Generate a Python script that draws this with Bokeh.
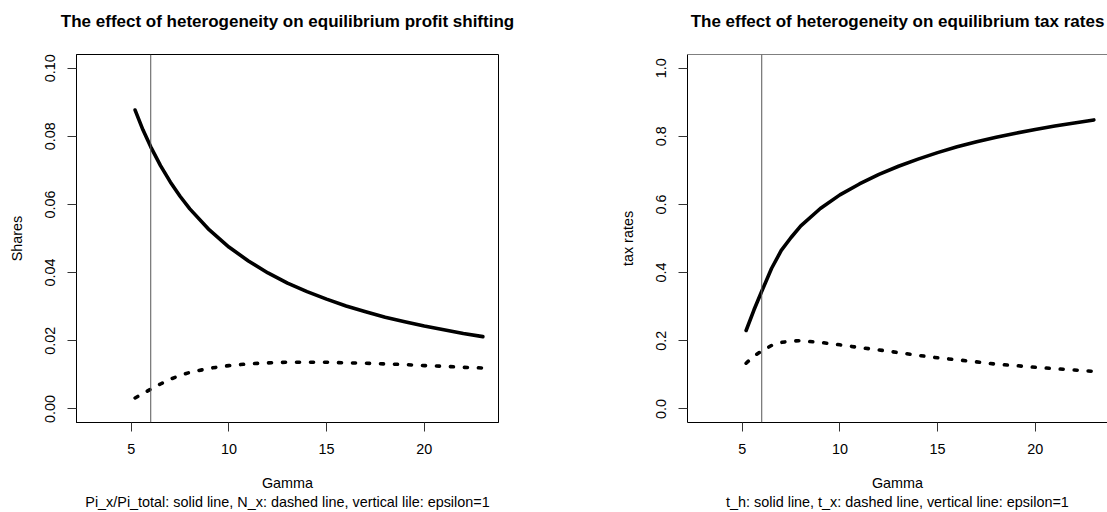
from bokeh.plotting import figure
from bokeh.layouts import row
from bokeh.models import Range1d, FixedTicker, PrintfTickFormatter, Span, Title
from bokeh.embed import file_html
from bokeh.resources import INLINE

FONT = "Liberation Sans"

# ---- data ----
gamma = [5.2, 5.6, 6.0, 6.5, 7.0, 7.5, 8.0, 9.0, 10.0, 11.0, 12.0, 13.0,
         14.0, 15.0, 16.0, 17.0, 18.0, 19.0, 20.0, 21.0, 22.0, 23.0]
pi_share = [0.0877, 0.0819, 0.0769, 0.0714, 0.0666, 0.0624, 0.0587, 0.0525,
            0.0475, 0.0434, 0.0399, 0.0369, 0.0344, 0.0322, 0.0302, 0.0285,
            0.0269, 0.0256, 0.0243, 0.0232, 0.0221, 0.0212]
n_x = [0.0032, 0.0045, 0.0058, 0.0073, 0.0087, 0.0098, 0.0107, 0.0119,
       0.0127, 0.0132, 0.0135, 0.0137, 0.0137, 0.0137, 0.0135, 0.0134,
       0.0132, 0.0130, 0.0127, 0.0125, 0.0122, 0.0120]
t_h = [0.230, 0.290, 0.345, 0.412, 0.465, 0.503, 0.537, 0.588, 0.628, 0.660,
       0.688, 0.712, 0.733, 0.752, 0.769, 0.784, 0.797, 0.809, 0.820, 0.830,
       0.839, 0.848]
t_x = [0.134, 0.155, 0.170, 0.186, 0.195, 0.199, 0.200, 0.195, 0.188, 0.180,
       0.173, 0.165, 0.157, 0.150, 0.144, 0.138, 0.131, 0.127, 0.122, 0.118,
       0.114, 0.110]
epsilon_one_gamma = 6.0

x_ticks = [5, 10, 15, 20]
left_y_ticks = [0.0, 0.02, 0.04, 0.06, 0.08, 0.10]
right_y_ticks = [0.0, 0.2, 0.4, 0.6, 0.8, 1.0]

left_title = "The effect of heterogeneity on equilibrium profit shifting"
right_title = "The effect of heterogeneity on equilibrium tax rates"
left_ylab = "Shares"
right_ylab = "tax rates"
xlab = "Gamma"
left_sub = "Pi_x/Pi_total: solid line, N_x: dashed line, vertical lile: epsilon=1"
right_sub = "t_h: solid line, t_x: dashed line, vertical line: epsilon=1"

# ---- layout constants ----
TOTAL_W = 1107
H = 512
X0, X1 = 2.2, 23.8
LEFT_W = 611
MB_LEFT = 76
FRAME_W = 422
MB_TOP = 54
MB_BOTTOM = 89
LBL = "14.4px"
TTL = "17px"


def make(title, ylab, sub, ylo, yhi, yticks, yfmt, solid, dashed, width, xend, mb_right, outline):
    p = figure(width=width, height=H, x_range=Range1d(X0, xend), y_range=Range1d(ylo, yhi),
               output_backend="svg", toolbar_location=None, title=None,
               min_border_left=MB_LEFT, min_border_right=mb_right,
               min_border_top=MB_TOP, min_border_bottom=MB_BOTTOM)
    p.background_fill_color = "white"
    p.border_fill_color = "white"
    p.grid.visible = False
    if outline:
        p.outline_line_color = "black"
        p.outline_line_width = 1
        p.outline_line_alpha = 1.0
    else:
        p.outline_line_color = None
        p.add_layout(Span(location=yhi, dimension="width", line_color="black", line_width=1))

    # blank spacer between box and title, then the title itself
    p.add_layout(Title(text=" ", text_font=FONT, text_font_size="17.3px", standoff=0), "above")
    p.add_layout(Title(text=title, align="center", vertical_align="top", standoff=0,
                       text_font=FONT, text_font_size=TTL, text_font_style="bold",
                       text_color="black"), "above")

    xa = p.xaxis[0]
    ya = p.yaxis[0]
    for ax in (xa, ya):
        ax.major_tick_in = 0
        ax.major_tick_out = 9
        ax.minor_tick_line_color = None
        ax.major_tick_line_color = "#333333"
        ax.axis_line_color = "black"
        ax.major_label_text_font = FONT
        ax.major_label_text_font_size = LBL
        ax.major_label_text_color = "black"
        ax.axis_label_text_font = FONT
        ax.axis_label_text_font_size = LBL
        ax.axis_label_text_font_style = "normal"
        ax.axis_label_text_color = "black"
        ax.major_label_standoff = 12
    xa.ticker = FixedTicker(ticks=x_ticks)
    xa.axis_label = xlab + "\n" + sub
    xa.axis_label_standoff = 18
    ya.ticker = FixedTicker(ticks=yticks)
    ya.formatter = PrintfTickFormatter(format=yfmt)
    ya.major_label_orientation = "vertical"
    ya.axis_label = ylab
    ya.axis_label_standoff = 18

    p.add_layout(Span(location=epsilon_one_gamma, dimension="height",
                      line_color="#555555", line_width=1))
    p.line(gamma, solid, line_color="black", line_width=3.6, line_cap="round", line_join="round")
    p.line(gamma, dashed, line_color="black", line_width=3.6, line_dash="3 11",
           line_cap="round", line_join="round")
    return p


px_per_unit = FRAME_W / (X1 - X0)
RIGHT_W = TOTAL_W - LEFT_W
right_frame_w = RIGHT_W - MB_LEFT
right_xend = X0 + right_frame_w / px_per_unit

left = make(left_title, left_ylab, left_sub, -0.004, 0.104, left_y_ticks, "%.2f",
            pi_share, n_x, LEFT_W, X1, LEFT_W - MB_LEFT - FRAME_W, True)
right = make(right_title, right_ylab, right_sub, -0.04, 1.04, right_y_ticks, "%.1f",
             t_h, t_x, RIGHT_W, right_xend, 0, False)

layout = row(left, right, spacing=0)
open("out.html", "w").write(file_html(layout, INLINE))
